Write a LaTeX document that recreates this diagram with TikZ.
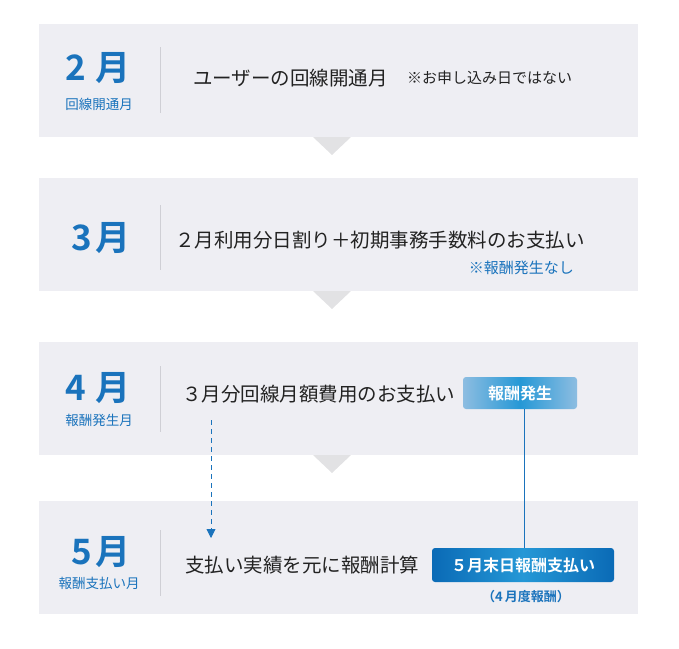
\documentclass[tikz,border=0pt]{standalone}
\usepackage{fontspec}
\setmainfont{Noto Sans CJK JP}
\newfontfamily\jpb{Noto Sans CJK JP Bold}
\usetikzlibrary{arrows.meta}
\definecolor{bandbg}{HTML}{EEEEF3}
\definecolor{trigrey}{HTML}{E2E2E4}
\definecolor{sepgrey}{HTML}{CFCFD5}
\definecolor{mblue}{HTML}{1A73BC}
\definecolor{lblue}{HTML}{8DBDE1}
\definecolor{cblue}{HTML}{2598D6}
\definecolor{dblue}{HTML}{0A6AB6}
\definecolor{txt}{HTML}{222222}
\tikzset{
  month/.style={font=\jpb\fontsize{35}{35}\selectfont, text=mblue, inner sep=0pt},
  sublabel/.style={font=\fontsize{13.5}{14}\selectfont, text=mblue, inner sep=0pt},
  maintext/.style={font=\fontsize{19.5}{20}\selectfont, text=txt, inner sep=0pt, anchor=west},
  notetext/.style={font=\fontsize{15}{16}\selectfont, inner sep=0pt},
  badge/.style={font=\jpb\fontsize{16}{16}\selectfont, text=white, rounded corners=3pt, minimum width=114pt, minimum height=32pt, inner sep=0pt},
  paybox/.style={font=\jpb\fontsize{16}{16}\selectfont, text=white, rounded corners=3pt, minimum width=182pt, minimum height=34pt, inner sep=0pt},
  sep/.style={draw=sepgrey, line width=1pt},
  band/.style={fill=bandbg},
  tri/.style={fill=trigrey},
}
\begin{document}
\begin{tikzpicture}[x=1pt,y=-1pt]
\useasboundingbox (0,0) rectangle (679,648);
% bands
\foreach \t in {24,178,342,501}{
  \fill[band] (39,\t) rectangle (638,\t+113);
}
% triangles
\foreach \t in {137,291,455}{
  \fill[tri] (313,\t) -- (351,\t) -- (332,\t+18) -- cycle;
}
% separators
\foreach \a/\b in {47/113,205/270,366/432,530/596}{
  \draw[sep] (160,\a) -- (160,\b);
}
% band 1
\node[month] (m2) at (98,68) {2\hspace{9pt}月};
\node[sublabel] (s2) at (99,104) {回線開通月};
\node[maintext] (t2) at (193,78) {ユーザーの回線開通月};
\node[notetext, anchor=west, text=txt] (n2) at (407,78) {※お申し込み日ではない};
% band 2
\node[month] (m3) at (101,238) {3\hspace{3pt}月};
\node[maintext] (t3) at (175,240) {２月利用分日割り＋初期事務手数料のお支払い};
\node[notetext, anchor=east, text=mblue] (n3) at (574,268) {※報酬発生なし};
% band 3
\node[month] (m4) at (98,388) {4\hspace{9pt}月};
\node[sublabel] (s4) at (99,420) {報酬発生月};
\node[maintext] (t4) at (182,394) {３月分回線月額費用のお支払い};
\node[badge, left color=lblue, right color=lblue, middle color=cblue] (bd) at (520,393) {報酬発生};
% band 4
\node[month] (m5) at (101,552) {5\hspace{3pt}月};
\node[sublabel] (s5) at (99,583) {報酬支払い月};
\node[maintext] (t5) at (185,565) {支払い実績を元に報酬計算};
\node[paybox, left color=dblue, right color=dblue, middle color=cblue] (pb) at (523,565) {５月末日報酬支払い};
\node[font=\jpb\fontsize{13}{13}\selectfont, text=mblue, inner sep=0pt] (p4) at (526,597) {（4\,月度報酬）};
% connectors
\draw[mblue, line width=1pt] (bd.south -| 524,0) -- (pb.north -| 524,0);
\coordinate (ds) at (211,420);
\coordinate (de) at (211,538);
\draw[mblue, line width=0.9pt, dash pattern=on 5pt off 4pt, -{Triangle[length=9pt,width=9pt]}] (ds) -- (de);
\end{tikzpicture}
\end{document}
